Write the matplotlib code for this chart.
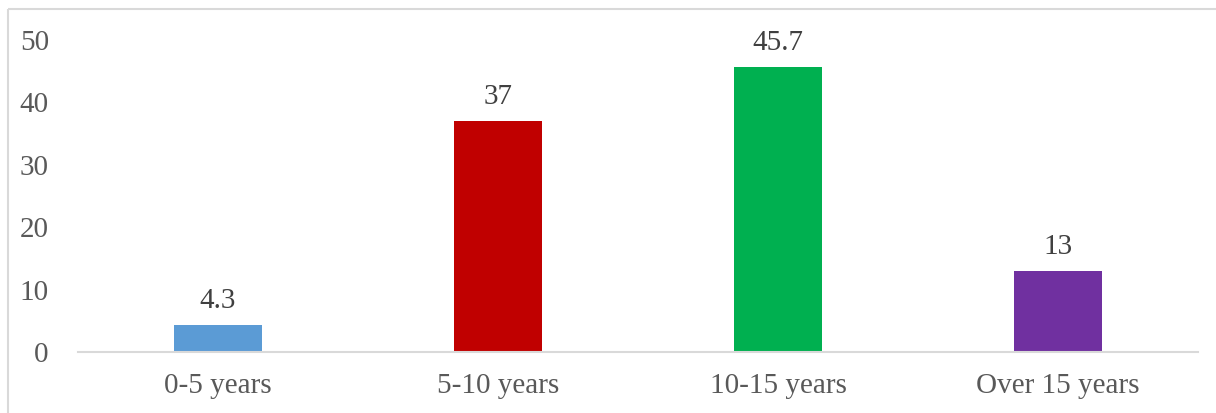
import matplotlib.pyplot as plt
from matplotlib.lines import Line2D

categories = ['0-5 years', '5-10 years', '10-15 years', 'Over 15 years']
values = [4.3, 37, 45.7, 13]
labels = ['4.3', '37', '45.7', '13']
colors = ['#5B9BD5', '#C00000', '#00B050', '#7030A0']

plt.rcParams['font.family'] = ['Liberation Serif', 'DejaVu Serif']

fig = plt.figure(figsize=(12.16, 4.13), dpi=100)
ax = fig.add_axes([78/1216, 1 - 352/413, 1120/1216, 312/413])

x = range(len(categories))
bars = ax.bar(x, values, width=0.314, color=colors, zorder=2)

for b, lab in zip(bars, labels):
    ax.annotate(lab, (b.get_x() + b.get_width()/2, b.get_height()),
                xytext=(0, 8), textcoords='offset points',
                ha='center', va='bottom', fontsize=21, color='#404040')

ax.set_xlim(-0.5, 3.5)
ax.set_ylim(0, 50)
ax.set_yticks(range(0, 51, 10))
ax.set_xticks(list(x))
ax.set_xticklabels(categories)
ax.tick_params(axis='both', length=0, labelsize=21, colors='#595959')
ax.tick_params(axis='y', pad=21)
ax.tick_params(axis='x', pad=15)
for s in ['top', 'right', 'left']:
    ax.spines[s].set_visible(False)
ax.spines['bottom'].set_color('#D9D9D9')
ax.spines['bottom'].set_linewidth(1.5)

# outer chart border (only top and left edges fall inside the image)
fig.add_artist(Line2D([8/1216, 1.0], [1 - 9/413, 1 - 9/413], color='#D9D9D9', lw=1.5,
                      solid_capstyle='butt', transform=fig.transFigure))
fig.add_artist(Line2D([8/1216, 8/1216], [0.0, 1 - 9/413], color='#D9D9D9', lw=1.5,
                      solid_capstyle='butt', transform=fig.transFigure))

fig.savefig('out.png', dpi=100)
